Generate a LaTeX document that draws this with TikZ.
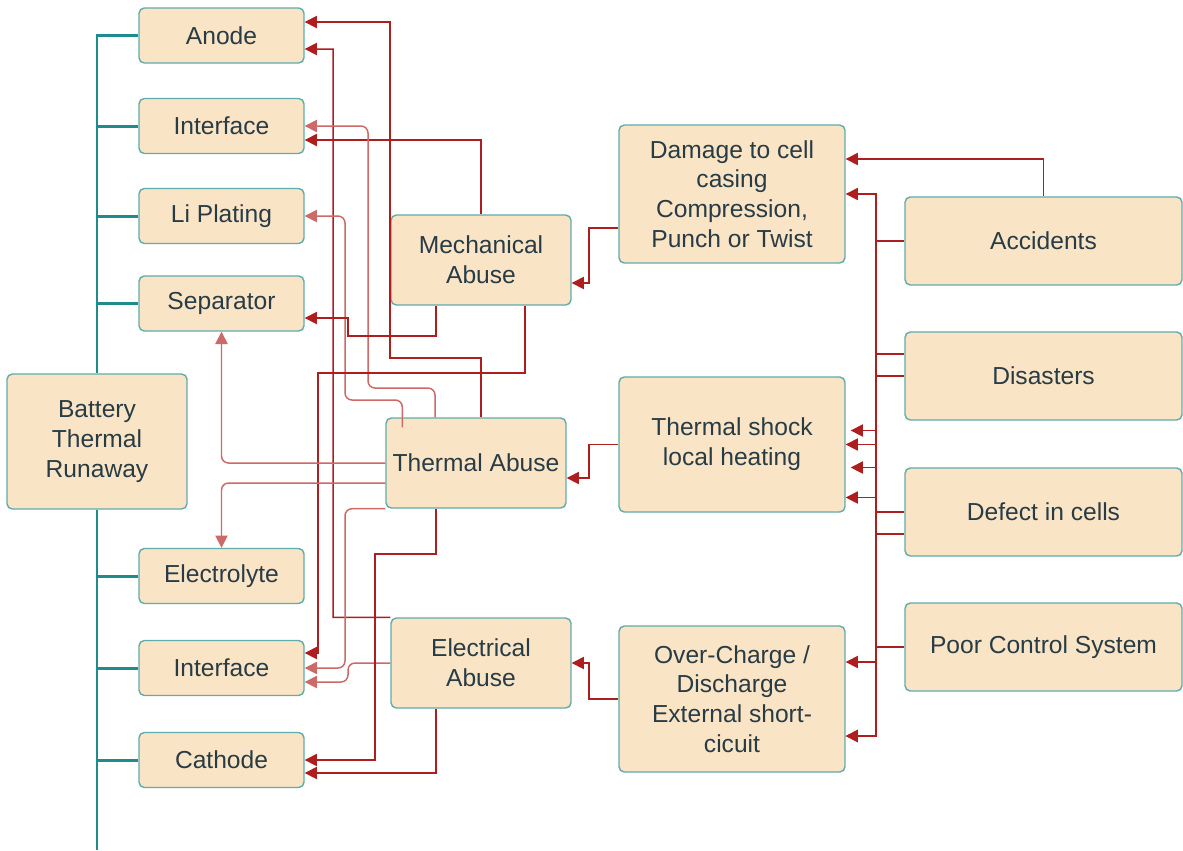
\documentclass[tikz,border=0pt]{standalone}
\usepackage{fontspec}
\setmainfont{Liberation Sans}
\usetikzlibrary{arrows.meta,calc}
\definecolor{boxfill}{RGB}{250,228,198}
\definecolor{boxline}{RGB}{95,172,172}
\definecolor{trunk}{RGB}{30,140,140}
\definecolor{linkred}{RGB}{175,30,30}
\definecolor{softred}{RGB}{205,105,105}
\definecolor{txt}{RGB}{40,60,70}

\begin{document}
\begin{tikzpicture}[x=0.02cm, y=-0.02cm,
  box/.style={draw=boxline, fill=boxfill, line width=0.8pt, rounded corners=3pt, align=center, inner sep=2pt, text=txt, font=\fontsize{14}{17}\selectfont},
  part/.style={box, minimum width=3.3cm, minimum height=1.1cm},
  abuse/.style={box, minimum width=3.6cm, minimum height=1.8cm},
  effect/.style={box, minimum width=4.52cm},
  cause/.style={box, minimum width=5.54cm, minimum height=1.76cm},
  trunkline/.style={draw=trunk, line width=1.7pt},
  link/.style={draw=linkred, line width=0.85pt, -{Triangle[length=7pt,width=7pt]}},
  softlink/.style={link, draw=softred, rounded corners=4pt}]
  \useasboundingbox (0,0) rectangle (1183,850);

  \node[part] (anode) at (221.5,35.5) {Anode};
  \node[part] (ifa)   at (221.5,126)  {Interface};
  \node[part] (li)    at (221.5,216)  {Li Plating};
  \node[part] (sep)   at (221.5,303.5) {Separator};
  \node[box, minimum width=3.6cm, minimum height=2.7cm] (btr) at (97,441.5) {Battery\\Thermal\\Runaway};
  \node[part] (ely)   at (221.5,576)  {Electrolyte};
  \node[part] (ifb)   at (221.5,668)  {Interface};
  \node[part] (cat)   at (221.5,760)  {Cathode};

  \node[abuse] (mech) at (481,260) {Mechanical\\Abuse};
  \node[abuse] (ta)   at (476,463) {Thermal Abuse};
  \node[abuse] (ea)   at (481,663) {Electrical\\Abuse};

  \node[effect, minimum height=2.76cm] (dmg) at (732,194)   {Damage to cell\\casing\\Compression,\\Punch or Twist};
  \node[effect, minimum height=2.7cm]  (ts)  at (732,444.5) {Thermal shock\\local heating};
  \node[effect, minimum height=2.92cm] (oc)  at (732,699)   {Over-Charge /\\Discharge\\External short-\\cicuit};

  \node[cause] (acc)  at (1043.5,241) {Accidents};
  \node[cause] (dis)  at (1043.5,376) {Disasters};
  \node[cause] (def)  at (1043.5,512) {Defect in cells};
  \node[cause] (poor) at (1043.5,647) {Poor Control System};

  \draw[trunkline] (anode.west) -| (btr.north);
  \draw[trunkline] (btr.south) -- (97,850);
  \foreach \n in {ifa,li,sep,ely,ifb,cat}
    \draw[trunkline] (\n.west) -- (\n.west -| btr.north);

  \draw[link] ($(ta.north)+(5,0)$) |- (390,358) |- ($(anode.east)+(0,-13.5)$);
  \draw[link] (ea.north west) -| (333,49) -- ($(anode.east)+(0,13.5)$);
  \draw[link] (mech.north) |- ($(ifa.east)+(0,14)$);
  \draw[softlink] ($(ta.north)+(-41,0)$) |- (368,388) |- (ifa.east);
  \draw[softlink] ($(ta.north west)+(17,10)$) |- (345,400) |- (li.east);
  \draw[link] ($(mech.south)+(-45,0)$) |- (348,336) |- ($(sep.east)+(0,14.5)$);
  \draw[link] ($(mech.south)+(44,0)$) |- (318,373) |- ($(ifb.east)+(0,-15)$);
  \draw[softlink] (ta.west) -| (sep.south);
  \draw[softlink] ($(ta.west)+(0,20)$) -| (ely.north);
  \draw[softlink] (ta.south west) -| (345,600) |- (ifb.east);
  \draw[softlink] (ea.west) -| (348,682) -- ($(ifb.east)+(0,14)$);
  \draw[link] ($(ta.south)+(-40,0)$) |- (375,554) |- (cat.east);
  \draw[link] ($(ea.south)+(-45,0)$) |- ($(cat.east)+(0,13)$);

  \draw[link] ($(dmg.west)+(0,34)$) -| (589,283) -- ($(mech.east)+(0,23)$);
  \draw[link] (ts.west) -| (589,478) -- ($(ta.east)+(0,15)$);
  \draw[link] (oc.west) -| (589,663) -- (ea.east);

  \draw[link] (acc.north) |- ($(dmg.east)+(0,-35)$);
  \draw[link] (acc.west) -- (876,241) |- (dmg.east);
  \draw[link] (acc.west) -- (876,241) |- ($(ts.east)+(5,-14)$);
  \draw[link] ($(dis.west)+(0,-22)$) -- (876,354) |- (ts.east);
  \draw[link] (dis.west) -- (876,376) |- ($(oc.east)+(0,37)$);
  \draw[link] (def.west) -- (876,512) |- ($(ts.east)+(5,23)$);
  \draw[link] ($(def.west)+(0,22)$) -- (876,534) |- ($(ts.east)+(0,53)$);
  \draw[link] (poor.west) -- (876,647) |- ($(oc.east)+(0,-37)$);
  \draw[link] (poor.west) -- (876,647) |- ($(oc.east)+(0,37)$);
\end{tikzpicture}
\end{document}
